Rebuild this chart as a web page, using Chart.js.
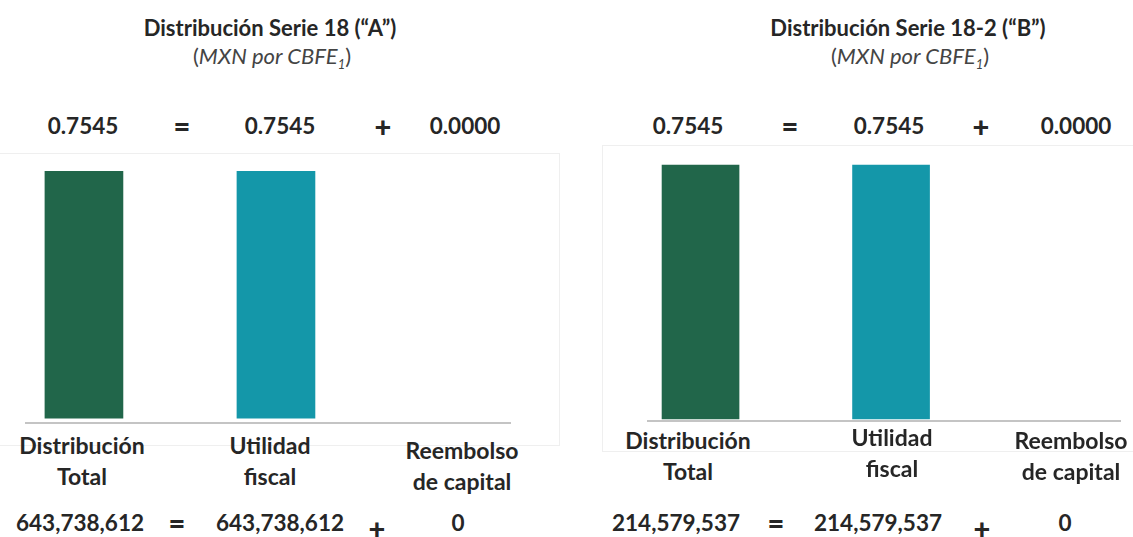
<!DOCTYPE html>
<html>
<head>
<meta charset="utf-8">
<script src="https://cdn.jsdelivr.net/npm/chart.js@4.4.1/dist/chart.umd.min.js"></script>
<style>
  body { margin: 0; background: #fff; font-family: Lato, "Open Sans", sans-serif; color: #262626; }
  #page { position: relative; width: 1133px; height: 537px; overflow: hidden; }
  .t { position: absolute; transform: translate(-50%, -50%); white-space: nowrap; text-align: center; font-weight: bold; }
  .title { font-size: 22px; }
  .sub { font-size: 22px; font-weight: normal; color: #444; }
  .sub sub { font-size: 13px; }
  .num { font-size: 22.5px; }
  .op { font-size: 29px; font-weight: 900; }
  .cat { font-size: 23px; line-height: 31px; }
  .card { position: absolute; border: 1px solid #efefef; background: #fff; }
  .wrap { position: absolute; }
</style>
</head>
<body>
<div id="page">
  <div class="card" style="left:-2px; top:153px; width:560px; height:291px;"></div>
  <div class="card" style="left:602px; top:145px; width:540px; height:305px;"></div>
  <div class="wrap" style="left:25px; top:150px; width:486px; height:276px;"><canvas id="chartA"></canvas></div>
  <div class="wrap" style="left:647px; top:145px; width:474px; height:279px;"><canvas id="chartB"></canvas></div>
</div>
<script>
// data
const categories = [['Distribución', 'Total'], ['Utilidad', 'fiscal'], ['Reembolso', 'de capital']];
const perUnitA = [0.7545, 0.7545, 0.0000];
const perUnitB = [0.7545, 0.7545, 0.0000];
const totalsA = [643738612, 643738612, 0];
const totalsB = [214579537, 214579537, 0];
const operators = ['=', '+'];
const titleA = 'Distribución Serie 18 (“A”)';
const titleB = 'Distribución Serie 18-2 (“B”)';
const barColors = ['#21664a', '#1497a9', 'rgba(0,0,0,0)'];

const page = document.getElementById('page');

function put(html, cx, cy, cls) {
  var d = document.createElement('div');
  d.className = 't ' + cls;
  d.innerHTML = html;
  d.style.left = cx + 'px';
  d.style.top = cy + 'px';
  page.appendChild(d);
}

// text layout for one panel
function panelText(p) {
  put(p.title, p.titleX, 27, 'title');
  put('(<i>MXN por CBFE<sub>1</sub></i>)', p.titleX + 2, 57, 'sub');

  var rowItems = [p.perUnit[0].toFixed(4), operators[0], p.perUnit[1].toFixed(4), operators[1], p.perUnit[2].toFixed(4)];
  rowItems.forEach(function(txt, i) {
    put(txt, p.rowX[i], 125, i % 2 ? 'op' : 'num');
  });

  categories.forEach(function(lines, i) {
    put(lines.join('<br>'), p.catX[i], p.catY[i], 'cat');
  });

  var fmt = function(v) { return v.toLocaleString('en-US'); };
  var botItems = [fmt(p.totals[0]), operators[0], fmt(p.totals[1]), operators[1], fmt(p.totals[2])];
  botItems.forEach(function(txt, i) {
    put(txt, p.botX[i], i === 3 ? 527 : 522, i % 2 ? 'op' : 'num');
  });
}

panelText({
  title: titleA, titleX: 270, perUnit: perUnitA, totals: totalsA,
  rowX: [83, 182, 280, 383, 465],
  catX: [82, 270, 462], catY: [461, 461, 466],
  botX: [80, 177, 280, 377, 458]
});
panelText({
  title: titleB, titleX: 908, perUnit: perUnitB, totals: totalsB,
  rowX: [688, 790, 889, 981, 1076],
  catX: [688, 892, 1071], catY: [456, 453, 456],
  botX: [676, 776, 878, 982, 1065]
});

function makeChart(id, values, xr, yr, thickness) {
  var ctx = document.getElementById(id).getContext('2d');
  return new Chart(ctx, {
    type: 'bar',
    data: {
      datasets: [{
        data: values.map(function(v, i) { return { x: i, y: v }; }),
        backgroundColor: barColors,
        barThickness: thickness
      }]
    },
    options: {
      responsive: true,
      maintainAspectRatio: false,
      animation: false,
      layout: { padding: { bottom: 3 } },
      plugins: { legend: { display: false }, tooltip: { enabled: false } },
      scales: {
        x: {
          type: 'linear', min: xr[0], max: xr[1], offset: false,
          grid: { display: false, drawTicks: false },
          ticks: { display: false },
          border: { display: true, color: '#c4c4c4', width: 2 }
        },
        y: { display: false, min: yr[0], max: yr[1] }
      }
    }
  });
}

makeChart('chartA', perUnitA, [-0.307, 2.224], [-0.015, 0.82], 78);
makeChart('chartB', perUnitB, [-0.281, 2.207], [-0.006, 0.814], 77);
</script>
</body>
</html>
